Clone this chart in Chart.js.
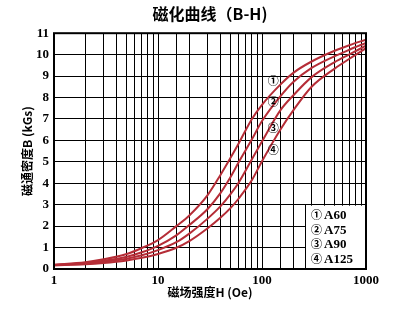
<!DOCTYPE html>
<html>
<head>
<meta charset="utf-8">
<script src="https://cdn.jsdelivr.net/npm/chart.js@4.4.0/dist/chart.umd.min.js"></script>
<style>
html, body { margin: 0; padding: 0; background: #fff; }
#wrap { width: 396px; height: 317px; position: relative; }
</style>
</head>
<body>
<div id="wrap"><canvas id="graph"></canvas></div>
<script>
// Field strength H (Oe)
var field_h = [1, 2, 3, 5, 7, 10, 15, 20, 30, 40, 50, 60, 80, 100, 150, 200, 300, 500, 700, 1000];

// Flux density B (kGs) for each core
var b_a60  = [0.20, 0.32, 0.45, 0.70, 0.98, 1.35, 2.00, 2.50, 3.45, 4.40, 5.20, 5.88, 7.00, 7.66, 8.60, 9.15, 9.68, 10.18, 10.45, 10.70];
var b_a75  = [0.19, 0.28, 0.38, 0.57, 0.78, 1.08, 1.57, 2.05, 2.80, 3.55, 4.30, 5.00, 6.05, 6.90, 8.05, 8.72, 9.38, 9.93, 10.24, 10.55];
var b_a90  = [0.18, 0.25, 0.33, 0.48, 0.64, 0.88, 1.25, 1.65, 2.35, 2.93, 3.50, 4.05, 5.12, 5.95, 7.40, 8.10, 8.95, 9.65, 10.02, 10.42];
var b_a125 = [0.17, 0.22, 0.28, 0.40, 0.52, 0.70, 0.99, 1.30, 1.90, 2.40, 2.85, 3.30, 4.15, 5.03, 6.50, 7.40, 8.50, 9.35, 9.82, 10.30];

var series_names = ["A60", "A75", "A90", "A125"];
var series_marks = ["\u2460", "\u2461", "\u2462", "\u2463"];

// Circled numbers placed beside the curves
var mark_h = [128, 128, 128, 128];
var mark_b = [8.8, 7.8, 6.6, 5.55];

var y_ticks_max = 11;
var curve_color = "#b52d37";
var serif = '"Liberation Serif", "Noto Sans CJK SC", serif';
var cjk = '"Noto Sans CJK SC", "Liberation Serif", sans-serif';

function points(values) {
	return field_h.map(function(h, i) { return { x: h, y: values[i] }; });
}

function curve(label, values) {
	return {
		label: label,
		data: points(values),
		borderColor: curve_color,
		borderWidth: 2,
		pointRadius: 0,
		cubicInterpolationMode: "monotone",
		fill: false
	};
}

// Frame, legend box and the circled curve marks
var extras = {
	id: "extras",
	beforeDatasetsDraw: function(chart) {
		var ctx = chart.ctx, a = chart.chartArea;
		var y = chart.scales.y;
		var bx = a.right - 61;
		var by = y.getPixelForValue(3);
		ctx.save();
		ctx.fillStyle = "#fff";
		ctx.fillRect(bx, by + 1, a.right - bx, a.bottom - by - 1);
		ctx.strokeStyle = "#000";
		ctx.lineWidth = 1;
		ctx.beginPath();
		ctx.moveTo(bx + 0.5, by);
		ctx.lineTo(bx + 0.5, a.bottom);
		ctx.stroke();
		ctx.fillStyle = "#000";
		ctx.textBaseline = "middle";
		ctx.textAlign = "left";
		for (var i = 0; i < series_names.length; i++) {
			var ty = by + 10 + i * 14.7;
			ctx.font = "bold 11px " + cjk;
			ctx.fillText(series_marks[i], bx + 6, ty);
			ctx.font = "bold 13px " + serif;
			ctx.fillText(series_names[i], bx + 19, ty + 1);
		}
		ctx.restore();
	},
	afterDatasetsDraw: function(chart) {
		var ctx = chart.ctx, a = chart.chartArea;
		var x = chart.scales.x, y = chart.scales.y;
		ctx.save();
		ctx.fillStyle = "#000";
		ctx.font = "bold 11px " + cjk;
		ctx.textAlign = "center";
		ctx.textBaseline = "middle";
		for (var i = 0; i < mark_h.length; i++) {
			ctx.fillText(series_marks[i], x.getPixelForValue(mark_h[i]), y.getPixelForValue(mark_b[i]));
		}
		ctx.strokeStyle = "#000";
		ctx.lineWidth = 2;
		ctx.strokeRect(a.left, a.top, a.right - a.left, a.bottom - a.top);
		ctx.restore();
	}
};

var canvas = document.getElementById("graph").getContext("2d");
var graph = new Chart(canvas, {
	type: "line",
	data: {
		datasets: [
			curve("A60", b_a60),
			curve("A75", b_a75),
			curve("A90", b_a90),
			curve("A125", b_a125)
		]
	},
	options: {
		responsive: true,
		maintainAspectRatio: false,
		animation: false,
		layout: { padding: { left: 0, right: 30, top: 0, bottom: 0 } },
		plugins: {
			legend: { display: false },
			tooltip: { enabled: false },
			title: {
				display: true,
				text: "磁化曲线（B-H)",
				color: "#000",
				fullSize: false,
				font: { family: cjk, size: 16, weight: "bold", lineHeight: 1.2 },
				padding: { top: 4, bottom: 10 }
			}
		},
		scales: {
			x: {
				type: "logarithmic",
				min: 1,
				max: 1000,
				afterFit: function(scale) { scale.height = 48; },
				grid: { color: "#000", lineWidth: 1, drawTicks: false },
				border: { display: false },
				ticks: {
					autoSkip: false,
					maxRotation: 0,
					padding: 4,
					color: "#000",
					font: { family: serif, size: 13, weight: "bold" },
					callback: function(value) {
						var l = Math.log10(value);
						return Math.abs(l - Math.round(l)) < 1e-9 ? String(value) : "";
					}
				},
				title: {
					display: true,
					text: "磁场强度H (Oe)",
					color: "#000",
					font: { family: cjk, size: 12, weight: "bold", lineHeight: 1.2 },
					padding: { top: 0, bottom: 17 }
				}
			},
			y: {
				min: 0,
				max: y_ticks_max,
				afterFit: function(scale) { scale.width = 54; },
				grid: { color: "#000", lineWidth: 1, drawTicks: false },
				border: { display: false },
				ticks: {
					stepSize: 1,
					padding: 5,
					color: "#000",
					font: { family: serif, size: 13, weight: "bold" }
				},
				title: {
					display: true,
					text: "磁通密度B (kGs)",
					color: "#000",
					font: { family: cjk, size: 12, weight: "bold", lineHeight: 1.2 },
					padding: { top: 20, bottom: 0 }
				}
			}
		}
	},
	plugins: [extras]
});
</script>
</body>
</html>
